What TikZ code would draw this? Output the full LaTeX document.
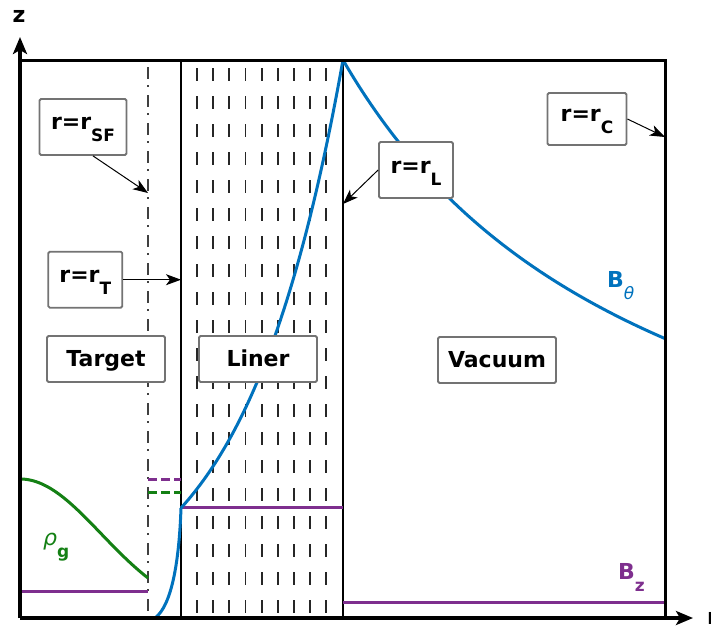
\documentclass[tikz,border=0pt]{standalone}
\usepackage{fontspec}
\setmainfont{DejaVu Sans}
\usetikzlibrary{arrows.meta}
\definecolor{bthblue}{RGB}{0,114,189}
\definecolor{bzpurple}{RGB}{126,47,142}
\definecolor{rhogreen}{RGB}{20,128,20}
\newcommand{\lowsub}[1]{\raisebox{-12pt}{\fontsize{17}{17}\selectfont #1}}

\begin{document}
\begin{tikzpicture}[
  x=1pt, y=-1pt,
  font=\fontsize{22}{26}\selectfont\bfseries,
  lbl/.style={draw=black!55, line width=1.8pt, rounded corners=1.5pt, fill=white,
              inner sep=0pt, align=center, text height=18pt},
  tag/.style={lbl, minimum width=118pt, minimum height=46pt, text height=16pt, text depth=0.5pt},
  arr/.style={-{Stealth[length=15pt,width=11pt,inset=4pt]}, draw=black, line width=1pt},
  axisline/.style={line width=3.2pt, -{Stealth[length=17pt,width=14pt,inset=4pt]}},
  boxframe/.style={line width=3pt},
  wall/.style={line width=1.6pt},
  lindash/.style={line width=1.9pt, draw=black!85, dash pattern=on 13pt off 15pt},
  sfline/.style={line width=1.6pt, draw=black!75, dash pattern=on 12pt off 6pt on 2pt off 8pt},
  bth/.style={draw=bthblue, line width=3pt},
  bz/.style={draw=bzpurple, line width=3pt},
  rhog/.style={draw=rhogreen, line width=3pt},
  shortdash/.style={dash pattern=on 9pt off 4pt}
]
\useasboundingbox (0,0) rectangle (711,627);
% ---------------- liner and target lines
\foreach \i in {0,...,8} { \draw[lindash] ({197+16.15*\i},68) -- ({197+16.15*\i},618); }
\draw[sfline] (148,67) -- (148,618);
\coordinate (rt) at (181,60);
\coordinate (rl) at (343,60);
\draw[wall] (rt) -- (181,618);
\draw[wall] (rl) -- (343,618);
% ---------------- profiles
\draw[rhog] plot[domain=20:148,samples=50] (\x,{618-139*exp(-(((\x-20)/114.7)^2))});
\draw[bz] (20,591.7) -- (148,591.7);
\draw[bz] (181,507.5) -- (343,507.5);
\draw[bz] (343,602.3) -- (665,602.3);
\draw[bz, shortdash] (148,479.3) -- (181,479.3);
\draw[rhog, shortdash] (148,492.7) -- (181,492.7);
\draw[bth] (155,618) .. controls (171,606) and (179,565) .. (181,508);
\draw[bth] plot[domain=181:343,samples=50] (\x,{618-110*exp(0.01002*(\x-181))});
\draw[bth] plot[domain=343:665,samples=60] (\x,{618-558*(323/(\x-20))});
\node[text=rhogreen, anchor=base west, inner sep=0pt] (rhol) at (43,545) {{\mdseries\itshape ρ}\lowsub{g}};
\node[text=bthblue, anchor=base west, inner sep=0pt] (bthl) at (607,287) {B\lowsub{\mdseries\itshape θ}};
\node[text=bzpurple, anchor=base west, inner sep=0pt] (bzl) at (618,579) {B\lowsub{z}};
% ---------------- labels
\node[lbl, minimum width=87pt, minimum height=56pt] (sf) at (83,127) {r=r\lowsub{SF}};
\node[lbl, minimum width=74pt, minimum height=56pt] (rT) at (85.3,279.7) {r=r\lowsub{T}};
\node[lbl, minimum width=74pt, minimum height=56pt] (rL) at (416,170) {r=r\lowsub{L}};
\node[lbl, minimum width=79pt, minimum height=52pt] (rC) at (587,119) {r=r\lowsub{C}};
\node[tag] (target) at (106,359) {Target};
\node[tag] (liner) at (258,359) {Liner};
\node[tag] (vac) at (497,360) {Vacuum};
\coordinate (sfp) at (148,193);
\coordinate (rlp) at (343,204);
\coordinate (rcp) at (665,137);
\draw[arr] ([xshift=10pt]sf.south) -- (sfp);
\draw[arr] (rT.east) -- (rT.east -| rt);
\draw[arr] (rL.west) -- (rlp);
\draw[arr] (rC.east) -- (rcp);
% ---------------- frame and axes
\draw[boxframe] (20,60) -- (665,60) -- (665,618);
\coordinate (o) at (20,618);
\draw[axisline] (o) -- (20,37);
\draw[axisline] (o) -- (693,618);
\node (zl) at (19,16) {z};
\node[anchor=west, inner sep=0pt] (rlab) at (707,618) {r};
\end{tikzpicture}
\end{document}
